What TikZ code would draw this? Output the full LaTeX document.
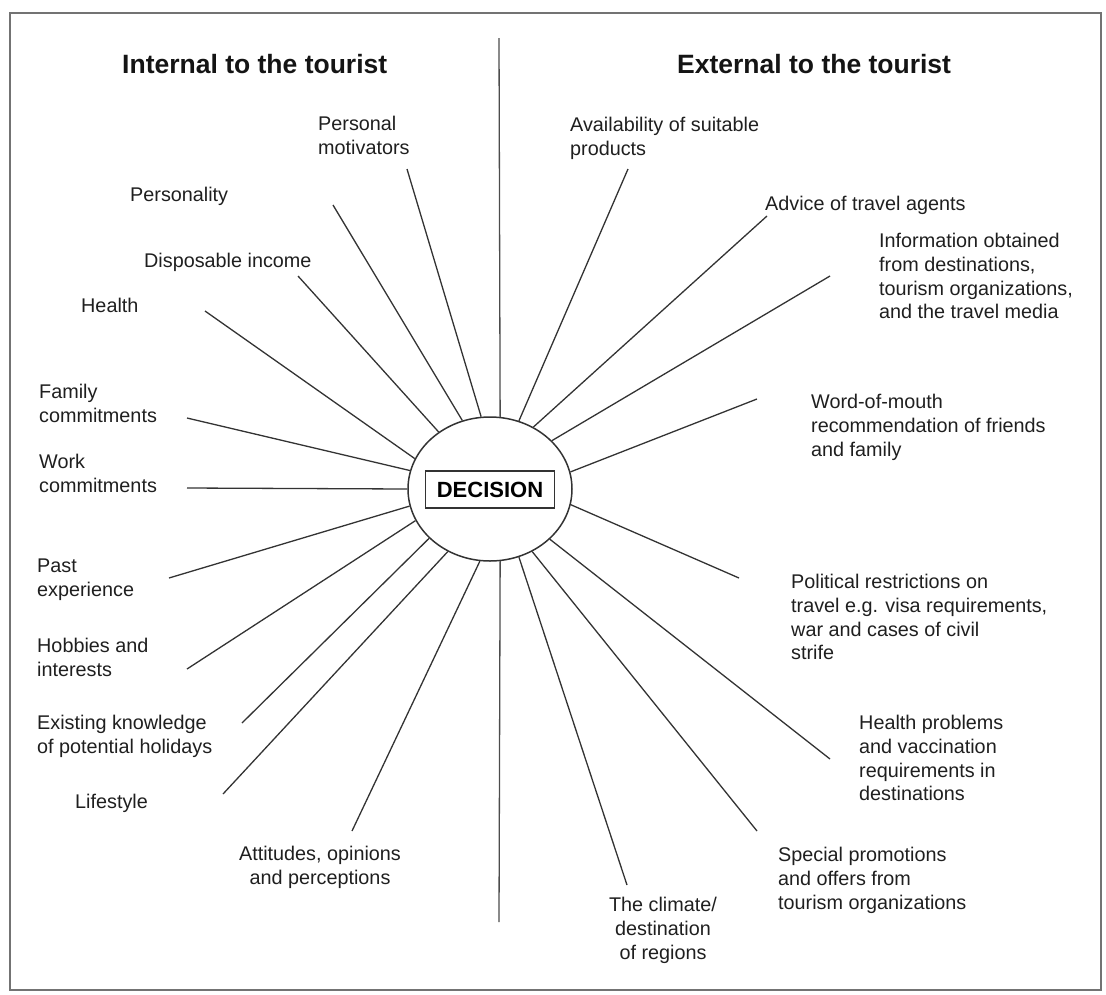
\documentclass[tikz,border=0pt]{standalone}
\usepackage{fontspec}
\setmainfont{Liberation Sans}
\usetikzlibrary{shapes.geometric}
\begin{document}
\begin{tikzpicture}[x=1pt,y=-1pt,
  lbl/.style={anchor=north west, inner sep=0pt, align=left, font=\fontsize{19.8}{23.8}\selectfont, text=black!88},
  head/.style={anchor=base west, inner sep=0pt, font=\fontsize{26.5}{30}\selectfont\bfseries, text=black!92},
  spoke/.style={line width=1.3pt, draw=black!80},
  divider/.style={line width=1.3pt, draw=black!70},
  frame/.style={line width=1.6pt, draw=black!55}]
\useasboundingbox (0,0) rectangle (1106,994);
\draw[frame] (10,13) rectangle (1101,990);

% headings
\node[head] (hin) at (122,73) {Internal to the tourist};
\node[head] (hex) at (677,73) {External to the tourist};

% centre
\node[draw=black!80, line width=1.5pt, ellipse, minimum width=164pt, minimum height=144pt, inner sep=0pt] (dec) at (490,489) {};
\node[draw=black!80, line width=1.3pt, minimum width=129pt, minimum height=37pt, inner sep=0pt, font=\fontsize{22}{26}\selectfont\bfseries] (decbox) at (490,489.5) {DECISION};

% divider
\coordinate (vtop) at (499,38);
\coordinate (vbot) at (499,922);
\draw[divider] (vtop) -- (dec.82.8);
\draw[divider] (dec.-82.8) -- (vbot);

% labels, internal
\node[lbl] (pm) at (318,116) {Personal\\motivators};
\node[lbl] (pers) at (130,187) {Personality};
\node[lbl] (disp) at (144,253) {Disposable income};
\node[lbl] (hlth) at (81,298) {Health};
\node[lbl] (fam) at (39,384) {Family\\commitments};
\node[lbl] (work) at (39,454) {Work\\commitments};
\node[lbl] (past) at (37,559) {Past\\experience};
\node[lbl] (hob) at (37,638) {Hobbies and\\interests};
\node[lbl] (exk) at (37,715) {Existing knowledge\\of potential holidays};
\node[lbl] (life) at (75,794) {Lifestyle};
\node[lbl, anchor=north, align=center] (att) at (320,846) {Attitudes, opinions\\and perceptions};

% labels, external
\node[lbl] (avail) at (570,117) {Availability of suitable\\products};
\node[lbl] (adv) at (765,196) {Advice of travel agents};
\node[lbl] (info) at (879,233) {Information obtained\\from destinations,\\tourism organizations,\\and the travel media};
\node[lbl] (wom) at (811,394) {Word-of-mouth\\recommendation of friends\\and family};
\node[lbl] (pol) at (791,574) {Political restrictions on\\travel e.g. visa requirements,\\war and cases of civil\\strife};
\node[lbl] (hp) at (859,715) {Health problems\\and vaccination\\requirements in\\destinations};
\node[lbl] (spec) at (778,847) {Special promotions\\and offers from\\tourism organizations};
\node[lbl, anchor=north, align=center] (clim) at (663,897) {The climate/\\destination\\of regions};

% outer ends of spokes
\coordinate (pmO) at (407,169);
\coordinate (persO) at (333,205);
\coordinate (dispO) at (298,276);
\coordinate (hlthO) at (205,311);
\coordinate (famO) at (187,418);
\coordinate (workO) at (187,488);
\coordinate (pastO) at (169,578);
\coordinate (hobO) at (187,669);
\coordinate (exkO) at (242,723);
\coordinate (lifeO) at (223,794);
\coordinate (attO) at (352,831);
\coordinate (availO) at (628,169);
\coordinate (advO) at (767,216);
\coordinate (infoO) at (830,276);
\coordinate (womO) at (757,399);
\coordinate (polO) at (739,578);
\coordinate (hpO) at (830,759);
\coordinate (specO) at (757,831);
\coordinate (climO) at (627,885);

% spokes
\draw[spoke] (pmO) -- (dec.97.8);
\draw[spoke] (persO) -- (dec.112.7);
\draw[spoke] (dispO) -- (dec.132.9);
\draw[spoke] (hlthO) -- (dec.158.7);
\draw[spoke] (famO) -- (dec.167.6);
\draw[spoke] (workO) -- (dec.180);
\draw[spoke] (pastO) -- (dec.192.4);
\draw[spoke] (hobO) -- (dec.203.2);
\draw[spoke] (exkO) -- (dec.219);
\draw[spoke] (lifeO) -- (dec.236);
\draw[spoke] (attO) -- (dec.262);
\draw[spoke] (availO) -- (dec.67.6);
\draw[spoke] (advO) -- (dec.55.3);
\draw[spoke] (infoO) -- (dec.38.9);
\draw[spoke] (womO) -- (dec.12.2);
\draw[spoke] (polO) -- (dec.-11.9);
\draw[spoke] (hpO) -- (dec.-40.1);
\draw[spoke] (specO) -- (dec.-56.1);
\draw[spoke] (climO) -- (dec.-67.9);
\end{tikzpicture}
\end{document}
